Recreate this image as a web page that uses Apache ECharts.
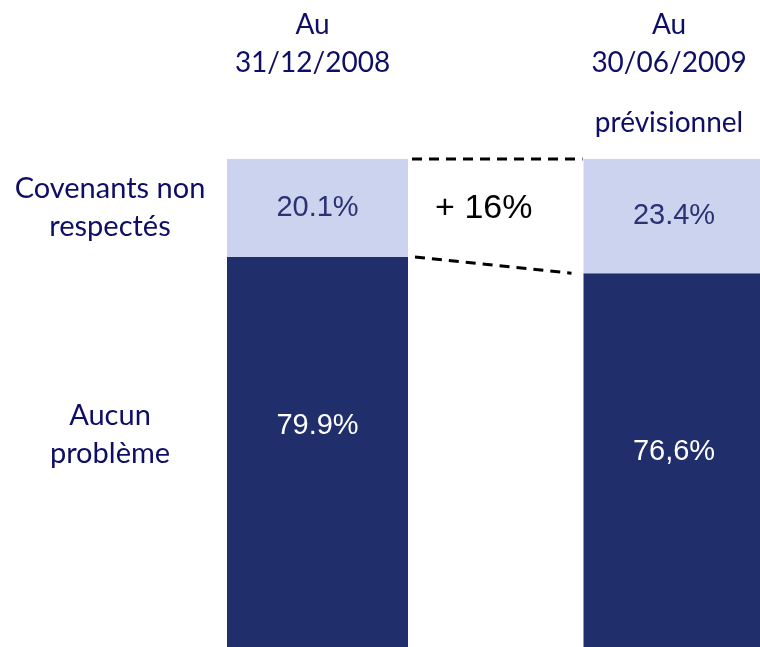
<!DOCTYPE html>
<html>
<head>
<meta charset="utf-8">
<script src="https://cdn.jsdelivr.net/npm/echarts@6/dist/echarts.min.js"></script>
<style>
  html, body { margin: 0; padding: 0; background: #fff; }
  #main { width: 760px; height: 647px; }
</style>
</head>
<body>
<div id="main"></div>
<script>
// données
const categories = ['31/12/2008', '30/06/2009'];
const subtitles = ['', 'prévisionnel'];
const seriesNames = ['Aucun problème', 'Covenants non respectés'];
const leftNames = ['Aucun\nproblème', 'Covenants non\nrespectés'];
const aucun = [79.9, 76.6];
const covenants = [20.1, 23.4];
const aucunLabels = ['79.9%', '76,6%'];
const covenantsLabels = ['20.1%', '23.4%'];
const variation = '+ 16%';

const navy = '#202e6c';
const light = '#cbd3ee';
const textNavy = '#0e0e66';
const labelFont = 'Lato';
const valueFont = 'Liberation Sans';
const BAR_W = 181;

const chart = echarts.init(document.getElementById('main'), null, { renderer: 'canvas' });

const option = {
    animation: false,
    // boundaryGap false : les barres sont centrées sur les bords de la grille
    grid: { left: 317.5, right: 86, top: 159, bottom: 0 },
    xAxis: {
        type: 'category',
        position: 'top',
        boundaryGap: false,
        data: categories,
        axisLine: { show: false },
        axisTick: { show: false },
        axisLabel: {
            margin: -5,
            interval: 0,
            padding: [0, 10, 0, 0],
            formatter: function (v, i) {
                return '{a|Au}\n{a|' + v + '}\n{b|' + (subtitles[i] || ' ') + '}';
            },
            rich: {
                a: { fontFamily: labelFont, fontSize: 28, color: textNavy, lineHeight: 38 },
                b: { fontFamily: labelFont, fontSize: 28, color: textNavy, lineHeight: 82 }
            }
        }
    },
    yAxis: { type: 'value', min: 0, max: 100, show: false },
    series: [
        {
            name: seriesNames[0],
            type: 'bar',
            stack: 'total',
            clip: false,
            barWidth: BAR_W,
            itemStyle: { color: navy },
            data: aucun.map((v, i) => ({
                value: v,
                label: { offset: [0, i === 0 ? -26 : -8] }
            })),
            label: {
                show: true,
                position: 'inside',
                fontFamily: valueFont,
                fontSize: 29,
                color: '#ffffff',
                formatter: p => aucunLabels[p.dataIndex]
            }
        },
        {
            name: seriesNames[1],
            type: 'bar',
            stack: 'total',
            clip: false,
            barWidth: BAR_W,
            itemStyle: { color: light },
            data: covenants,
            label: {
                show: true,
                position: 'inside',
                fontFamily: valueFont,
                fontSize: 29,
                color: '#2a3272',
                formatter: p => covenantsLabels[p.dataIndex]
            }
        },
        {
            // lignes pointillées, variation et libellés à gauche
            type: 'custom',
            silent: true,
            clip: false,
            data: [[0, 100]],
            renderItem: function (params, api) {
                const half = BAR_W / 2;
                const top1 = api.coord([0, 100]);
                const top2 = api.coord([1, 100]);
                const mid1 = api.coord([0, aucun[0]]);
                const mid2 = api.coord([1, aucun[1]]);
                const bot1 = api.coord([0, 0]);
                const dash = { stroke: '#000', lineWidth: 3, lineDash: [10, 7] };
                const x1 = top1[0] + half;
                const x2 = top2[0] - half;
                const leftX = top1[0] - half - 117;
                return {
                    type: 'group',
                    children: [
                        { type: 'line', shape: { x1: x1 + 4, y1: top1[1], x2: x2 - 1, y2: top2[1] }, style: dash },
                        { type: 'line', shape: { x1: x1 + 7, y1: mid1[1], x2: x2 - 12, y2: mid2[1] }, style: dash },
                        {
                            type: 'text',
                            x: (x1 + x2) / 2 - 12,
                            y: (top1[1] + mid1[1]) / 2 + 1,
                            style: {
                                text: variation, fontFamily: valueFont, fontSize: 34, fill: '#000',
                                align: 'center', verticalAlign: 'middle'
                            }
                        },
                        {
                            type: 'text',
                            x: leftX,
                            y: (top1[1] + mid1[1]) / 2,
                            style: {
                                text: leftNames[1], fontFamily: labelFont, fontSize: 29, fill: textNavy,
                                lineHeight: 38, align: 'center', verticalAlign: 'middle'
                            }
                        },
                        {
                            type: 'text',
                            x: leftX,
                            y: (mid1[1] + bot1[1]) / 2 - 17,
                            style: {
                                text: leftNames[0], fontFamily: labelFont, fontSize: 29, fill: textNavy,
                                lineHeight: 38, align: 'center', verticalAlign: 'middle'
                            }
                        }
                    ]
                };
            }
        }
    ]
};

chart.setOption(option);
</script>
</body>
</html>
